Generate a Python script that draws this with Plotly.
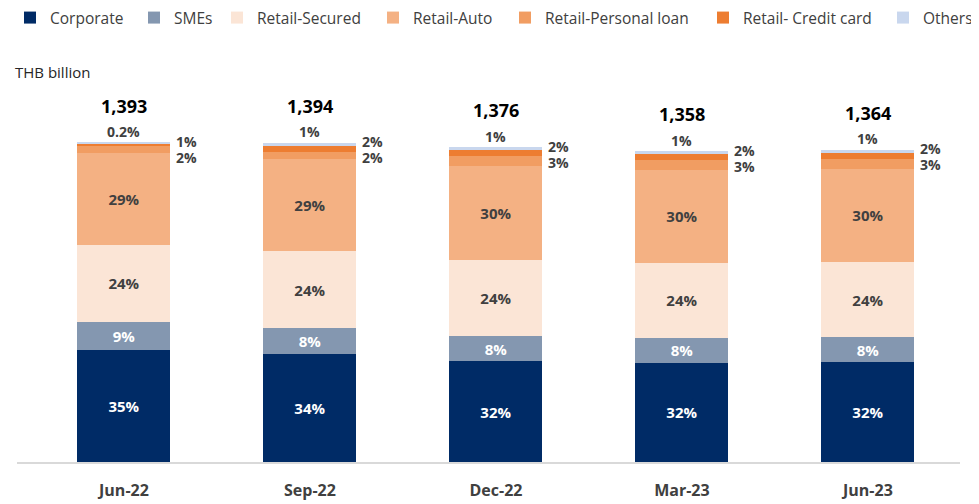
import plotly.graph_objects as go

categories = ["Jun-22", "Sep-22", "Dec-22", "Mar-23", "Jun-23"]
totals = [1393, 1394, 1376, 1358, 1364]

corporate_pct = [35, 34, 32, 32, 32]
smes_pct = [9, 8, 8, 8, 8]
secured_pct = [24, 24, 24, 24, 24]
auto_pct = [29, 29, 30, 30, 30]
personal_pct = [2, 2, 3, 3, 3]
credit_pct = [1, 2, 2, 2, 2]
others_pct = [0.2, 1, 1, 1, 1]

series = [
    ("Corporate", corporate_pct, "#002B66", "white", True),
    ("SMEs", smes_pct, "#8497B0", "white", True),
    ("Retail-Secured", secured_pct, "#FBE5D6", "#404040", True),
    ("Retail-Auto", auto_pct, "#F4B183", "#404040", True),
    ("Retail-Personal loan", personal_pct, "#F19D62", "#404040", False),
    ("Retail- Credit card", credit_pct, "#ED7D31", "#404040", False),
    ("Others", others_pct, "#C9D7EE", "#404040", False),
]

FONT = "Open Sans, Noto Sans, sans-serif"
W, H = 979, 504
PAGE = 8  # default page margin of the html body
legend_px = [10, 134, 217, 373, 505, 703, 883]

fig = go.Figure()
layout_legends = {}
for i, (name, pct, color, tcolor, show_text) in enumerate(series):
    vals = [p * t / 100 for p, t in zip(pct, totals)]
    key = "legend" if i == 0 else f"legend{i+1}"
    fig.add_trace(go.Bar(
        x=categories, y=vals, name=name,
        marker=dict(color=color, line=dict(width=0)),
        text=[f"{p:g}%" for p in pct] if show_text else None,
        textposition="inside" if show_text else "none",
        insidetextanchor="middle",
        textangle=0,
        constraintext="none",
        insidetextfont=dict(family=FONT, size=15, color=tcolor, weight="bold"),
        width=0.5,
        legend=key,
        hoverinfo="skip",
    ))
    layout_legends[key] = dict(
        orientation="h", xref="container", yref="container",
        x=(legend_px[i] - PAGE) / W, xanchor="left",
        y=1 - (18 - PAGE) / H, yanchor="middle",
        font=dict(family=FONT, size=15.5, color="#404040"),
        bgcolor="rgba(0,0,0,0)", borderwidth=0,
    )

tops = [sum(s[1][j] * totals[j] / 100 for s in series) for j in range(len(categories))]

annotations = []
for j, cat in enumerate(categories):
    annotations.append(dict(
        x=cat, y=tops[j], text=f"{totals[j]:,}", showarrow=False,
        yanchor="middle", yshift=37,
        font=dict(family=FONT, size=18, color="black", weight="bold"),
    ))
    annotations.append(dict(
        x=cat, y=tops[j], text=f"{others_pct[j]:g}%", showarrow=False,
        yanchor="middle", yshift=11,
        font=dict(family=FONT, size=14, color="#404040", weight="bold"),
    ))
    annotations.append(dict(
        x=cat, y=tops[j], text=f"{credit_pct[j]:g}%", showarrow=False,
        xanchor="left", xshift=50, yanchor="middle", yshift=1,
        font=dict(family=FONT, size=14, color="#404040", weight="bold"),
    ))
    annotations.append(dict(
        x=cat, y=tops[j], text=f"{personal_pct[j]:g}%", showarrow=False,
        xanchor="left", xshift=50, yanchor="middle", yshift=-15,
        font=dict(family=FONT, size=14, color="#404040", weight="bold"),
    ))

plot_top, plot_bottom, plot_left, plot_right = 40 - PAGE, 462 - PAGE, 17 - PAGE, 960 - PAGE
px_per_unit = 319.5 / (1393 * 1.002)
ymax = (plot_bottom - plot_top) / px_per_unit

annotations.append(dict(
    xref="paper", yref="paper",
    x=(13 - PAGE - plot_left) / (plot_right - plot_left),
    y=(plot_bottom - (72 - PAGE)) / (plot_bottom - plot_top),
    xanchor="left", yanchor="middle", text="THB billion", showarrow=False,
    font=dict(family=FONT, size=15, color="#262626"),
))

fig.update_layout(
    width=W, height=H,
    barmode="stack",
    paper_bgcolor="white", plot_bgcolor="white",
    margin=dict(l=plot_left, r=W - plot_right, t=plot_top, b=H - plot_bottom,
                autoexpand=False),
    font=dict(family=FONT),
    showlegend=True,
    annotations=annotations,
    xaxis=dict(
        range=[-0.575, 4.495], showline=True, linecolor="#D9D9D9", linewidth=2,
        ticks="", showgrid=False, zeroline=False, automargin=False,
        tickfont=dict(family=FONT, size=16, color="#404040", weight="bold"),
        ticklabelstandoff=13,
    ),
    yaxis=dict(range=[0, ymax], visible=False, showgrid=False, zeroline=False,
               automargin=False),
    **layout_legends,
)

fig.write_html("out.html")
